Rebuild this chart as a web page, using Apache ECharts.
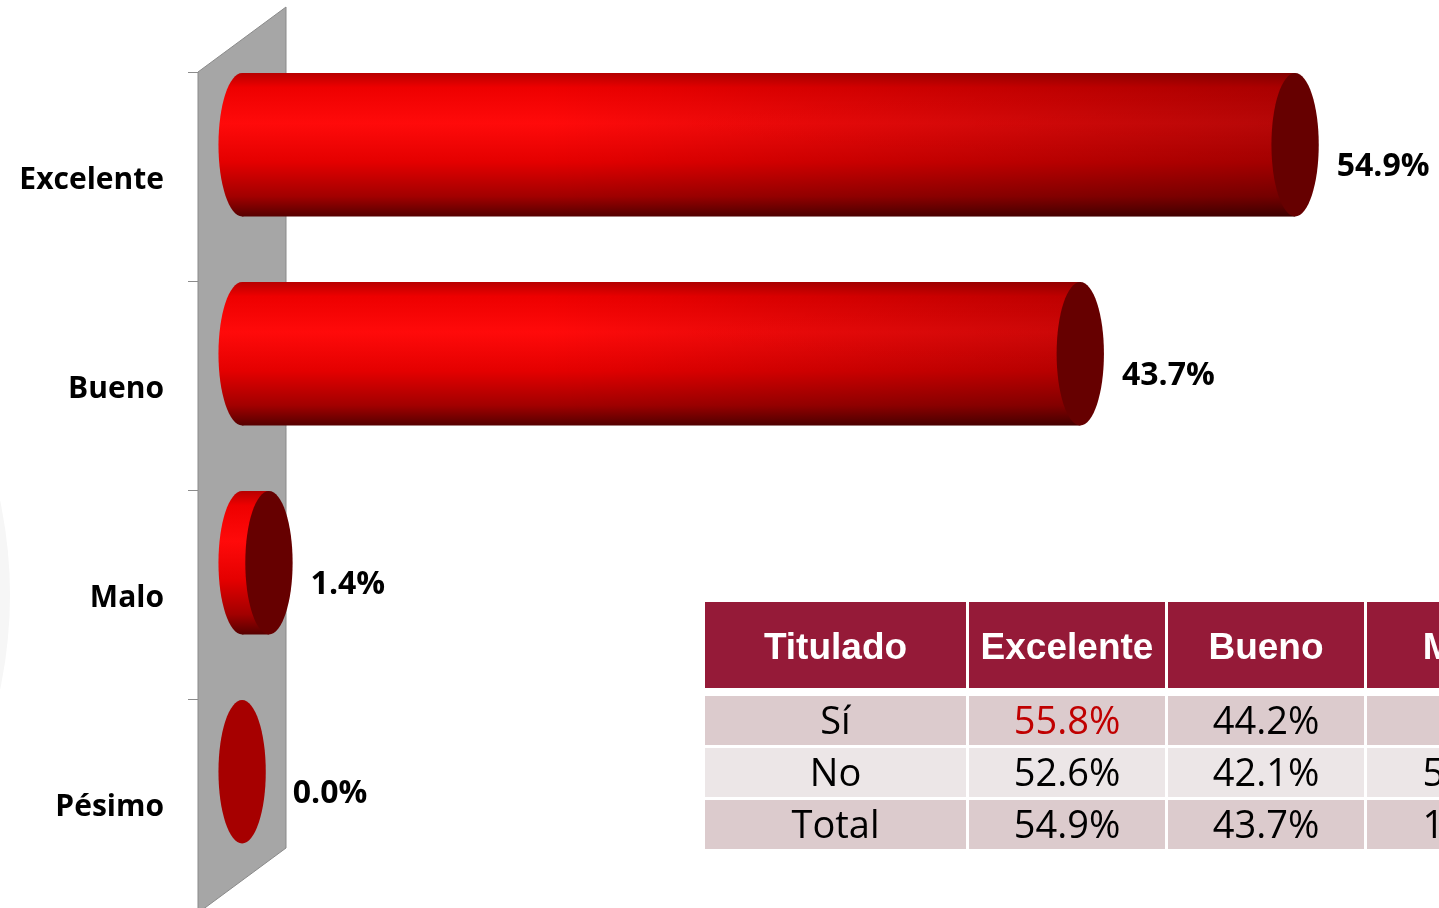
<!DOCTYPE html>
<html lang="es">
<head>
  <meta charset="UTF-8">
  <title>Valoración</title>
  <style>
    html, body { margin: 0; padding: 0; width: 100%; height: 100%; background: #fff; }
    #main { width: 1439px; height: 908px; }
  </style>
</head>
<body>
  <div id="main"></div>
  <script src="https://cdn.jsdelivr.net/npm/echarts@6/dist/echarts.min.js"></script>
  <script type="text/javascript">
    // datos del grafico
    var categorias = ['Excelente', 'Bueno', 'Malo', 'Pésimo'];
    var valores = [54.9, 43.7, 1.4, 0.0];

    // datos de la tabla
    var tablaCabecera = ['Titulado', 'Excelente', 'Bueno', 'Malo'];
    var tablaFilas = [
      ['Sí', '55.8%', '44.2%', '0%'],
      ['No', '52.6%', '42.1%', '5.3%'],
      ['Total', '54.9%', '43.7%', '1.4%']
    ];

    // la pared empieza en x=198, el cero de las barras queda 44px a la derecha
    var GRID_LEFT = 198, GRID_TOP = 72, BAND = 210;
    var PX_POR_PUNTO = 19.18;
    var X_MIN = -2.3, X_MAX = 60;
    var WALL_LEFT = 198, WALL_RIGHT = 286, WALL_RISE = 65;

    var myChart = echarts.init(document.getElementById('main'));

    var cuerpo = new echarts.graphic.LinearGradient(0, 0, 0, 1, [
      { offset: 0, color: '#b80000' },
      { offset: 0.1, color: '#ee0000' },
      { offset: 0.35, color: '#ff0a0a' },
      { offset: 0.62, color: '#e40000' },
      { offset: 0.86, color: '#a20000' },
      { offset: 1, color: '#560000' }
    ]);
    var sombra = new echarts.graphic.LinearGradient(550, 0, 1320, 0, [
      { offset: 0, color: 'rgba(0,0,0,0)' },
      { offset: 1, color: 'rgba(0,0,0,0.3)' }
    ], true);

    function cilindro(params, api) {
      var v = api.value(0);
      var idx = api.value(1);
      var ini = api.coord([0, idx]);
      var fin = api.coord([v, idx]);
      var band = api.size([0, 1])[1];
      var ry = band * 0.343;
      var rx = ry * 0.33;
      var cy = ini[1] - band * 0.152;
      var hijos = [];
      if (v > 0) {
        hijos.push({ type: 'ellipse', shape: { cx: ini[0], cy: cy, rx: rx, ry: ry }, style: { fill: cuerpo } });
        hijos.push({ type: 'rect', shape: { x: ini[0], y: cy - ry, width: fin[0] - ini[0], height: ry * 2 }, style: { fill: cuerpo } });
        hijos.push({ type: 'rect', shape: { x: ini[0], y: cy - ry, width: fin[0] - ini[0], height: ry * 2 }, style: { fill: sombra } });
      }
      hijos.push({
        type: 'ellipse',
        shape: { cx: fin[0], cy: cy, rx: rx, ry: ry },
        style: { fill: v > 0 ? '#660000' : '#a60000' }
      });
      hijos.push({
        type: 'text',
        x: fin[0] + rx + (v > 0 ? 18 : 27),
        y: cy + 22,
        style: {
          text: v.toFixed(1) + '%',
          font: 'bold 32px "Open Sans"',
          fill: '#000',
          align: 'left',
          verticalAlign: 'middle'
        }
      });
      return { type: 'group', children: hijos };
    }

    // pared gris y tabla
    var graficos = [];
    graficos.push({
      type: 'circle', z: -10,
      shape: { cx: -446, cy: 595, r: 456 },
      style: { fill: '#f6f6f6' }
    });
    var wallBottom = GRID_TOP + BAND * categorias.length + 1;
    graficos.push({
      type: 'polygon', z: -5,
      shape: {
        points: [
          [WALL_LEFT, GRID_TOP], [WALL_RIGHT, GRID_TOP - WALL_RISE],
          [WALL_RIGHT, wallBottom - WALL_RISE], [WALL_LEFT, wallBottom]
        ]
      },
      style: { fill: '#a6a6a6', stroke: '#8a8a8a', lineWidth: 1 }
    });

    var tx = 705, colW = [261, 196, 196, 196, 196], gap = 3;
    var headTop = 602, headH = 86, rowTop = 696, rowH = 49;
    var filaColor = ['#dccbcd', '#ece6e7', '#dccbcd'];
    var xs = [];
    var acc = tx;
    for (var c = 0; c < tablaCabecera.length; c++) { xs.push(acc); acc += colW[c] + gap; }

    tablaCabecera.forEach(function (h, c) {
      graficos.push({ type: 'rect', z: 10, shape: { x: xs[c], y: headTop, width: colW[c], height: headH }, style: { fill: '#951a38' } });
      graficos.push({
        type: 'text', z: 11, x: xs[c] + colW[c] / 2, y: headTop + headH / 2 + 4,
        style: { text: h, font: 'bold 37px "Liberation Sans"', fill: '#fff', align: 'center', verticalAlign: 'middle' }
      });
    });
    tablaFilas.forEach(function (fila, r) {
      var y = rowTop + r * (rowH + gap);
      fila.forEach(function (txt, c) {
        graficos.push({ type: 'rect', z: 10, shape: { x: xs[c], y: y, width: colW[c], height: rowH }, style: { fill: filaColor[r] } });
        graficos.push({
          type: 'text', z: 11, x: xs[c] + colW[c] / 2, y: y + rowH / 2 + 3,
          style: {
            text: txt, font: '38px "Open Sans"',
            fill: (r === 0 && c === 1) ? '#c00000' : '#000',
            align: 'center', verticalAlign: 'middle'
          }
        });
      });
    });

    var option = {
      animation: false,
      grid: {
        left: GRID_LEFT, top: GRID_TOP,
        width: (X_MAX - X_MIN) * PX_POR_PUNTO, height: BAND * categorias.length
      },
      xAxis: {
        type: 'value', min: X_MIN, max: X_MAX, show: false
      },
      yAxis: {
        type: 'category',
        inverse: true,
        z: 3,
        data: categorias,
        axisLine: { show: true, onZero: false, lineStyle: { color: 'rgba(0,0,0,0)', width: 0 } },
        axisTick: { show: true, interval: 0, length: 10, lineStyle: { color: '#8c8c8c', width: 1 } },
        axisLabel: {
          margin: 34, color: '#000', fontFamily: 'Open Sans', fontWeight: 'bold', fontSize: 30,
          verticalAlign: 'top', lineHeight: 8
        },
        splitLine: { show: false }
      },
      graphic: graficos,
      series: [{
        type: 'custom',
        z: 5,
        renderItem: cilindro,
        encode: { x: 0, y: 1 },
        data: valores.map(function (v, i) { return [v, i]; })
      }]
    };
    myChart.setOption(option);
  </script>
</body>
</html>
